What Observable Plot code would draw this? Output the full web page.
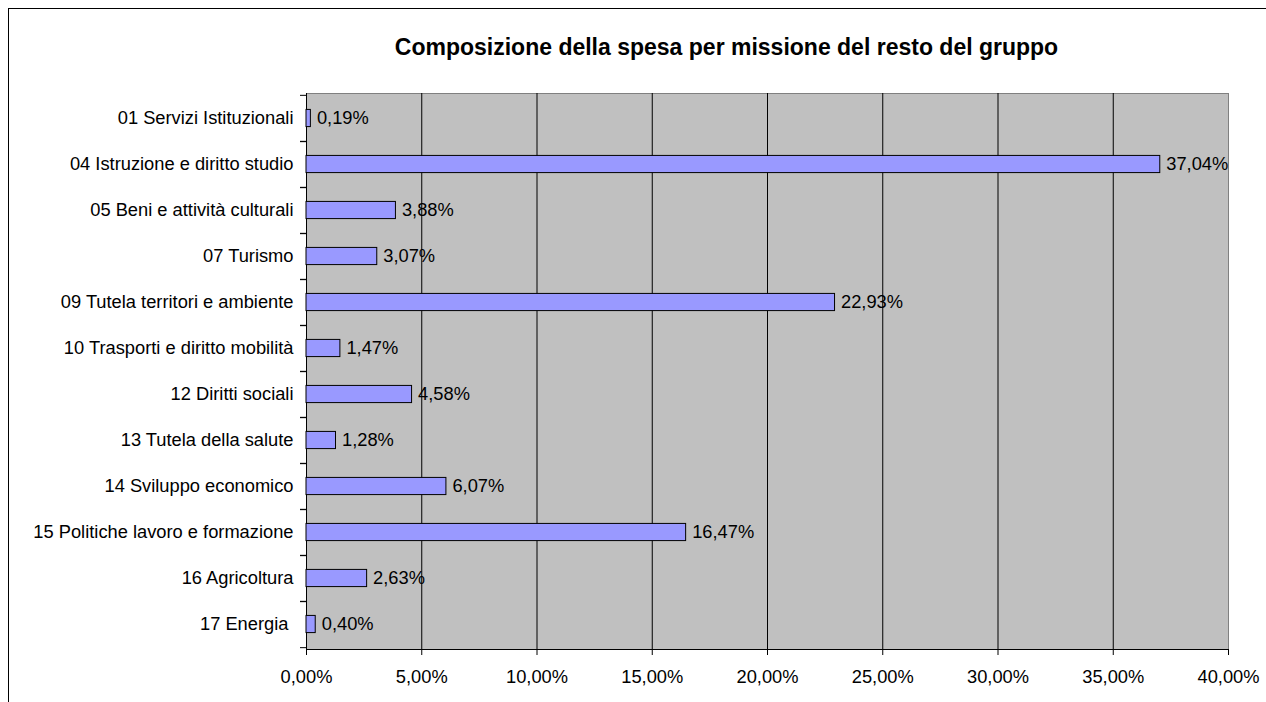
<!DOCTYPE html>
<html>
<head>
<meta charset="utf-8">
<script src="https://cdn.jsdelivr.net/npm/d3@7"></script>
<script src="https://cdn.jsdelivr.net/npm/@observablehq/plot@0.6"></script>
<style>
  html, body { margin: 0; padding: 0; background: #fff; overflow: hidden; }
  #wrap { position: relative; width: 1266px; height: 702px; overflow: hidden; font-family: "Liberation Sans", Arial, sans-serif; }
  #border { position: absolute; left: 8px; top: 8px; width: 1400px; height: 900px; border: 1px solid #000; box-sizing: border-box; }
  #title { position: absolute; left: 0; width: 1453px; top: 34px; text-align: center; font-weight: bold; font-size: 23px; color: #000; }
  #chart { position: absolute; left: 0; top: 0; }
</style>
</head>
<body>
<div id="wrap">
  <div id="border"></div>
  <div id="chart"></div>
  <div id="title">Composizione della spesa per missione del resto del gruppo</div>
</div>
<script>
const titleText = "Composizione della spesa per missione del resto del gruppo";
const categories = [
  "01 Servizi Istituzionali",
  "04 Istruzione e diritto studio",
  "05 Beni e attività culturali",
  "07 Turismo",
  "09 Tutela territori e ambiente",
  "10 Trasporti e diritto mobilità",
  "12 Diritti sociali",
  "13 Tutela della salute",
  "14 Sviluppo economico",
  "15 Politiche lavoro e formazione",
  "16 Agricoltura",
  "17 Energia\u00a0"
];
const values = [0.19, 37.04, 3.88, 3.07, 22.93, 1.47, 4.58, 1.28, 6.07, 16.47, 2.63, 0.40];
const xTicks = [0, 5, 10, 15, 20, 25, 30, 35, 40];

const data = categories.map((c, i) => ({cat: c, value: values[i]}));
const fmt = v => v.toFixed(2).replace(".", ",") + "%";

const W = 1266, H = 702;
const mTop = 93, mBottom = 53, mLeft = 306, mRight = 38;
const step = (H - mTop - mBottom) / categories.length;
const barH = 17.5;
const inset = (step - barH) / 2;
const FS = 18.3;

const chart = Plot.plot({
  width: W,
  height: H,
  marginTop: mTop,
  marginBottom: mBottom,
  marginLeft: mLeft,
  marginRight: mRight,
  style: {fontFamily: '"Liberation Sans", Arial, sans-serif', color: "#000", background: "transparent"},
  x: {domain: [0, 40], label: null},
  y: {domain: categories, padding: 0, label: null},
  marks: [
    Plot.frame({fill: "#c0c0c0", stroke: "#808080"}),
    Plot.ruleX(xTicks.filter(t => t > 0 && t < 40), {stroke: "#000", strokeWidth: 1}),
    Plot.ruleX([0], {stroke: "#000", strokeWidth: 1}),
    Plot.frame({anchor: "bottom", stroke: "#000"}),
    Plot.barX(data, {x: "value", y: "cat", fill: "#9999ff", stroke: "#000", strokeWidth: 1, insetTop: inset, insetBottom: inset}),
    Plot.text(data, {x: "value", y: "cat", text: d => fmt(d.value), textAnchor: "start", dx: 6, fontSize: FS, fill: "#000"}),
    Plot.axisX({ticks: xTicks, tickFormat: fmt, tickSize: 6, tickPadding: 14, fontSize: FS, label: null}),
    Plot.axisY({tickSize: 0, tickPadding: 13, fontSize: FS, label: null}),
    Plot.axisY({tickSize: 6, tickFormat: () => "", dy: -step / 2, label: null}),
    Plot.axisY({tickSize: 6, tickFormat: () => "", dy: step / 2, label: null})
  ]
});
document.getElementById("chart").appendChild(chart);
</script>
</body>
</html>
